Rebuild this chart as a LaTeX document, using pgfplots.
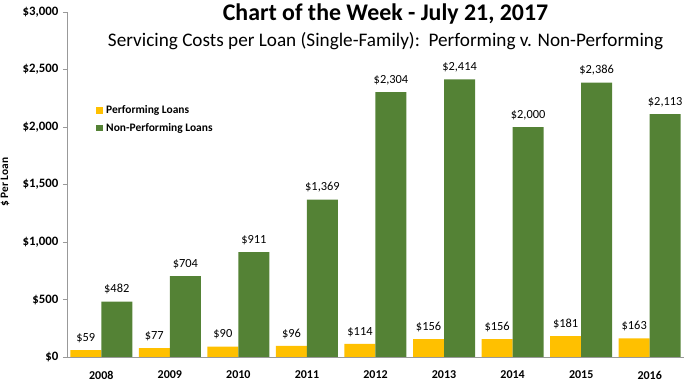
\documentclass[border=0pt]{standalone}
\usepackage{pgfplots}
\pgfplotsset{compat=1.18}
\usepackage{fontspec}
\setmainfont{Carlito}
\definecolor{perf}{HTML}{FFC000}
\definecolor{nonperf}{HTML}{548235}
\begin{document}
\begin{tikzpicture}
\useasboundingbox (-50.25pt,-24pt) rectangle (474.75pt,267.75pt);
\begin{axis}[
  at={(0,0)}, anchor=south west,
  scale only axis,
  width=462.75pt, height=258.75pt,
  ybar, bar width=23.25pt,
  xmin=-0.5, xmax=8.5,
  ymin=0, ymax=3000,
  ytick={0,500,1000,1500,2000,2500,3000},
  xtick=data,
  xticklabels={2008,2009,2010,2011,2012,2013,2014,2015,2016},
  x tick label style={font=\fontsize{9}{10}\selectfont\bfseries, yshift=-4pt},
  y tick label style={font=\fontsize{9.6}{11}\selectfont\bfseries},
  /pgf/number format/assume math mode=true,
  /pgf/number format/fixed,
  /pgf/number format/precision=0,
  /pgf/number format/1000 sep={,},
  yticklabel={\$\pgfmathprintnumber{\tick}},
  axis x line=bottom, axis y line=left,
  axis line style={-, draw=gray!80},
  x axis line style={-, draw=gray!80},
  y axis line style={-, draw=gray!80},
  tick align=outside,
  major tick length=3pt,
  x tick style={draw=none},
  y tick style={draw=gray!80},
  nodes near coords={\$\pgfmathprintnumber{\pgfplotspointmeta}},
  nodes near coords style={font=\fontsize{9.3}{11}\selectfont, black, yshift=2pt},
  legend style={draw=none, fill=none, at={(0.04,0.745)}, anchor=north west,
    font=\fontsize{8.6}{10}\selectfont\bfseries, row sep=1.5pt,
    legend cell align=left,
    nodes={inner xsep=2.5pt}},
  legend image code/.code={\fill[#1] (0pt,-2.6pt) rectangle (5.2pt,2.6pt);},
]
\addplot[fill=perf, draw=none, bar shift=-11.625pt] coordinates {
(0,59) (1,77) (2,90) (3,96) (4,114) (5,156) (6,156) (7,181) (8,163)};
\addplot[fill=nonperf, draw=none, bar shift=11.625pt] coordinates {
(0,482) (1,704) (2,911) (3,1369) (4,2304) (5,2414) (6,2000) (7,2386) (8,2113)};
\legend{Performing Loans, Non-Performing Loans}
\end{axis}
\node[rotate=90, font=\fontsize{8.5}{10}\selectfont\bfseries] at (-46.5pt,131pt) {\$ Per Loan};
\node[font=\fontsize{17.9}{20}\selectfont\bfseries] at (238.9pt,256.9pt) {Chart of the Week - July 21, 2017};
\node[font=\fontsize{14.4}{17}\selectfont] at (238.9pt,237pt) {Servicing Costs per Loan (Single-Family):\ \ Performing v. Non-Performing};
\end{tikzpicture}
\end{document}
